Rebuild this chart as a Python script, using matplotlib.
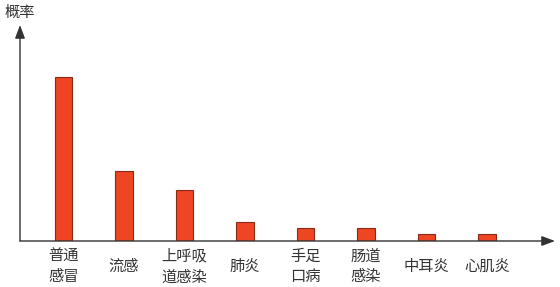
import matplotlib
matplotlib.use("Agg")
import matplotlib.pyplot as plt

plt.rcParams['font.family'] = ['Noto Sans CJK SC', 'DejaVu Sans']

categories = ["普通\n感冒", "流感", "上呼吸\n道感染", "肺炎", "手足\n口病", "肠道\n感染", "中耳炎", "心肌炎"]
values = [164, 70, 51, 19, 13, 13, 7, 7]
ylabel = "概率"

W, H = 560, 287
fig = plt.figure(figsize=(W / 100, H / 100), dpi=100)
ax_left, ax_right, ax_bottom, ax_top = 20, 555, 241, 25
ax = fig.add_axes([ax_left / W, (H - ax_bottom) / H, (ax_right - ax_left) / W, (ax_bottom - ax_top) / H])

first, step = 63.5, 60.5
xmin = (ax_left - first) / step
xmax = (ax_right - first) / step
ax.set_xlim(xmin, xmax)
ax.set_ylim(0, 216)

x = list(range(len(categories)))
ax.bar(x, values, width=0.29, color="#EE4522", edgecolor="#8A2A1A", linewidth=0.8, zorder=3)

for s in ax.spines.values():
    s.set_visible(False)
ax.set_xticks([])
ax.set_yticks([])

ax.annotate("", xy=(1, 0), xytext=(0, 0), xycoords="axes fraction",
            arrowprops=dict(arrowstyle="-|>,head_length=0.8,head_width=0.3", color="#333333", lw=1.0, shrinkA=0, shrinkB=0), zorder=4)
ax.annotate("", xy=(0, 1), xytext=(0, 0), xycoords="axes fraction",
            arrowprops=dict(arrowstyle="-|>,head_length=0.8,head_width=0.3", color="#333333", lw=1.0, shrinkA=0, shrinkB=0), zorder=4)

for xi, lab in zip(x, categories):
    ax.text(xi, -25.5, lab, ha="center", va="center", fontsize=11, color="#333333",
            linespacing=1.3, clip_on=False)

fig.text(20 / W, 1 - 12 / H, ylabel, ha="center", va="center", fontsize=11, color="#333333")

fig.savefig("out.png", dpi=100)
